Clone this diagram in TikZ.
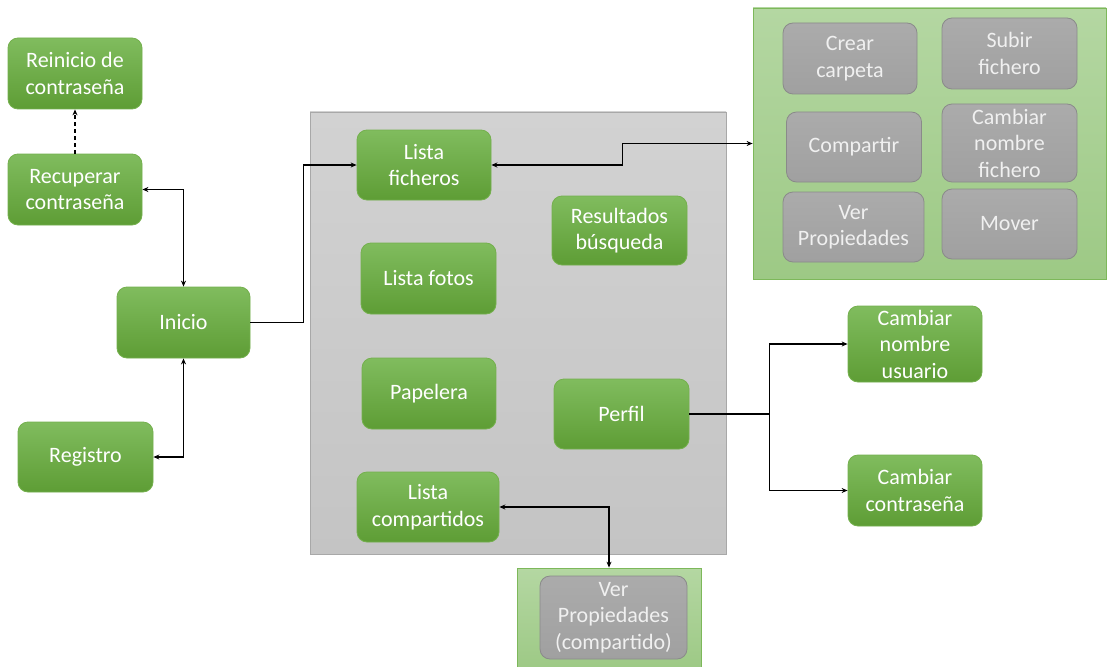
\documentclass[tikz,border=0pt]{standalone}
\usepackage{fontspec}
\setmainfont{Carlito}
\usetikzlibrary{arrows.meta}
\definecolor{gtop}{HTML}{80BC5E}
\definecolor{gbot}{HTML}{5E9D35}
\definecolor{gline}{HTML}{74B04D}
\definecolor{ytop}{HTML}{ABABAB}
\definecolor{ybot}{HTML}{A0A0A0}
\definecolor{yline}{HTML}{8A8A8A}
\definecolor{ctop}{HTML}{B4D7A2}
\definecolor{cbot}{HTML}{9DC985}
\definecolor{cline}{HTML}{7DB85A}
\definecolor{ptop}{HTML}{D2D2D2}
\definecolor{pbot}{HTML}{C4C4C4}
\definecolor{pline}{HTML}{A8A8A8}
\begin{document}
\begin{tikzpicture}[x=1pt,y=-1pt,
  txt/.style={align=center, font=\fontsize{22}{26.5}\selectfont, inner sep=0pt},
  gnode/.style={txt, draw=gline, line width=0.8pt, rounded corners=10pt, top color=gtop, bottom color=gbot, text=white},
  ynode/.style={txt, draw=yline, line width=0.8pt, rounded corners=10pt, top color=ytop, bottom color=ybot, text=white!94!black},
  cbox/.style={draw=cline, line width=0.8pt, top color=ctop, bottom color=cbot, inner sep=0pt},
  pbox/.style={draw=pline, line width=0.8pt, top color=ptop, bottom color=pbot, inner sep=0pt},
  con/.style={line width=1.1pt, black},
  tip/.style={-{Stealth[length=6pt,width=5pt]}},
  tips/.style={{Stealth[length=6pt,width=5pt]}-{Stealth[length=6pt,width=5pt]}}
]
\clip (0,0) rectangle (1107,666);
\useasboundingbox (0,0) rectangle (1107,666);
\fill[white] (0,0) rectangle (1107,666);

% containers
\node[pbox, minimum width=416, minimum height=442] (panel) at (518,333) {};
\node[cbox, minimum width=353, minimum height=271] (cont1) at (929.5,143.5) {};
\node[cbox, minimum width=184, minimum height=102] (cont2) at (609,619) {};

% left column
\node[gnode, minimum width=134, minimum height=71] (rei) at (75,73.5) {Reinicio de\\contraseña};
\node[gnode, minimum width=134, minimum height=71] (rec) at (75,189.5) {Recuperar\\contraseña};
\node[gnode, minimum width=133, minimum height=71] (ini) at (183.5,322.5) {Inicio};
\node[gnode, minimum width=135, minimum height=70] (reg) at (85.5,457) {Registro};

% panel nodes
\node[gnode, minimum width=134, minimum height=70] (lf) at (424,165) {Lista\\ficheros};
\node[gnode, minimum width=135, minimum height=69] (rb) at (619.5,230.5) {Resultados\\búsqueda};
\node[gnode, minimum width=135, minimum height=71] (lfo) at (428.5,278.5) {Lista fotos};
\node[gnode, minimum width=134, minimum height=71] (pap) at (429,393.5) {Papelera};
\node[gnode, minimum width=135, minimum height=70] (perf) at (621.5,414) {Perfil};
\node[gnode, minimum width=142, minimum height=70] (lc) at (428,507) {Lista\\compartidos};

% profile targets
\node[gnode, minimum width=134, minimum height=76] (cnu) at (915,344) {Cambiar\\nombre\\usuario};
\node[gnode, minimum width=134, minimum height=71] (cc) at (915,490.5) {Cambiar\\contraseña};

% file actions
\node[ynode, minimum width=134, minimum height=71] (crc) at (850,58.5) {Crear\\carpeta};
\node[ynode, minimum width=135, minimum height=71] (sf) at (1009.5,53.5) {Subir\\fichero};
\node[ynode, minimum width=135, minimum height=70] (comp) at (854,147) {Compartir};
\node[ynode, minimum width=135, minimum height=78] (cnf) at (1009.5,143) {Cambiar\\nombre\\fichero};
\node[ynode, minimum width=141, minimum height=70] (vp) at (853.5,227) {Ver\\Propiedades};
\node[ynode, minimum width=135, minimum height=70] (mov) at (1009.5,224) {Mover};

% shared properties
\node[ynode, minimum width=147, minimum height=83] (vpc) at (613.5,617.5) {Ver\\Propiedades\\(compartido)};

% connectors
\draw[con, tip, dashed, dash pattern=on 4pt off 3pt] (rec.north) -- (rei.south);
\draw[con, tips] (rec.east) -| (ini.north);
\draw[con, tips] (ini.south) |- (reg.east);
\draw[con, tip] (ini.east) -- ++(53,0) |- (lf.west);
\draw[con, tips] (lf.east) -- ++(131,0) |- (cont1.west);
\draw[con, tip] (perf.east) -- ++(80,0) |- (cnu.west);
\draw[con, tip] (perf.east) -- ++(80,0) |- (cc.west);
\draw[con, tips] (lc.east) -| (cont2.north);
\end{tikzpicture}
\end{document}
